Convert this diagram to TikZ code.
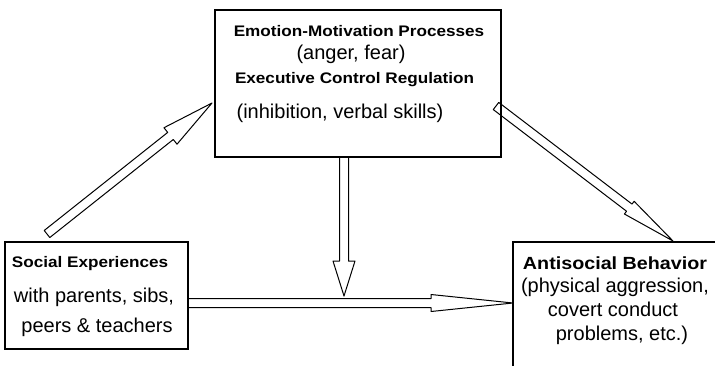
\documentclass[tikz,border=0pt]{standalone}
\usepackage{fontspec}
\setmainfont{Liberation Sans}
\newfontfamily\widebold{Liberation Sans}[FakeStretch=1.12]
\usepackage{tikz}
\usetikzlibrary{calc}

\newcommand{\blockarrow}[4]{%
	\coordinate (bb) at ($(#2)!#3!(#1)$);
	\draw[blockarr] ($(#1)!4.5pt!90:(#2)$) -- ($(bb)!4.5pt!90:(#2)$) -- ($(bb)!#4!90:(#2)$) -- (#2) -- ($(bb)!#4!-90:(#2)$) -- ($(bb)!4.5pt!-90:(#2)$) -- ($(#1)!4.5pt!-90:(#2)$) -- cycle;
}

\begin{document}
\begin{tikzpicture}[x=1pt,y=-1pt]
					\tikzstyle{panel}=[rectangle,draw=black,line width=1.3pt,inner sep=0pt]
					\tikzstyle{blockarr}=[draw=black,line width=1pt,line join=round]
					\tikzstyle{headtxt}=[font=\widebold\bfseries\fontsize{15.3}{18}\selectfont,anchor=base,inner sep=0pt]
					\tikzstyle{bigheadtxt}=[font=\widebold\bfseries\fontsize{17.6}{20}\selectfont,anchor=base,inner sep=0pt]
					\tikzstyle{bodytxt}=[font=\fontsize{20}{23}\selectfont,anchor=base,inner sep=0pt]
					\clip (0,0) rectangle (715,365);
					\node[panel,minimum width=286pt,minimum height=147pt] (emo) at (358,83.5) {};
					\node[panel,minimum width=183pt,minimum height=107pt] (soc) at (96.5,295.5) {};
					\node[panel,minimum width=204pt,minimum height=158pt] (anti) at (615,321) {};
					\node[headtxt] (emo1) at (359,36) {Emotion-Motivation Processes};
					\node[bodytxt] (emo2) at (351,59.5) {(anger, fear)};
					\node[headtxt] (emo3) at (354.5,83) {Executive Control Regulation};
					\node[bodytxt] (emo4) at (340,118) {(inhibition, verbal skills)};
					\node[headtxt] (soc1) at (90,267) {Social Experiences};
					\node[bodytxt] (soc2) at (94,302) {with parents, sibs,};
					\node[bodytxt] (soc3) at (97,332) {peers \& teachers};
					\node[bigheadtxt] (anti1) at (615,269) {Antisocial Behavior};
					\node[bodytxt] (anti2) at (615,292.5) {(physical aggression,};
					\node[bodytxt] (anti3) at (613,316.5) {covert conduct};
					\node[bodytxt] (anti4) at (622,340.5) {problems, etc.)};
					\coordinate (t1) at (47,234);
					\coordinate (h1) at (212,103);
					\coordinate (t2) at (496,106);
					\coordinate (h2) at (673,241);
					\coordinate (t3) at (344,157);
					\coordinate (h3) at (344,296);
					\coordinate (t4) at (188,303);
					\coordinate (h4) at (513,303);
					\blockarrow{t1}{h1}{53pt}{10.5pt}
					\blockarrow{t2}{h2}{55pt}{8pt}
					\blockarrow{t3}{h3}{35pt}{11pt}
					\blockarrow{t4}{h4}{82pt}{8.5pt}
\end{tikzpicture}
\end{document}
